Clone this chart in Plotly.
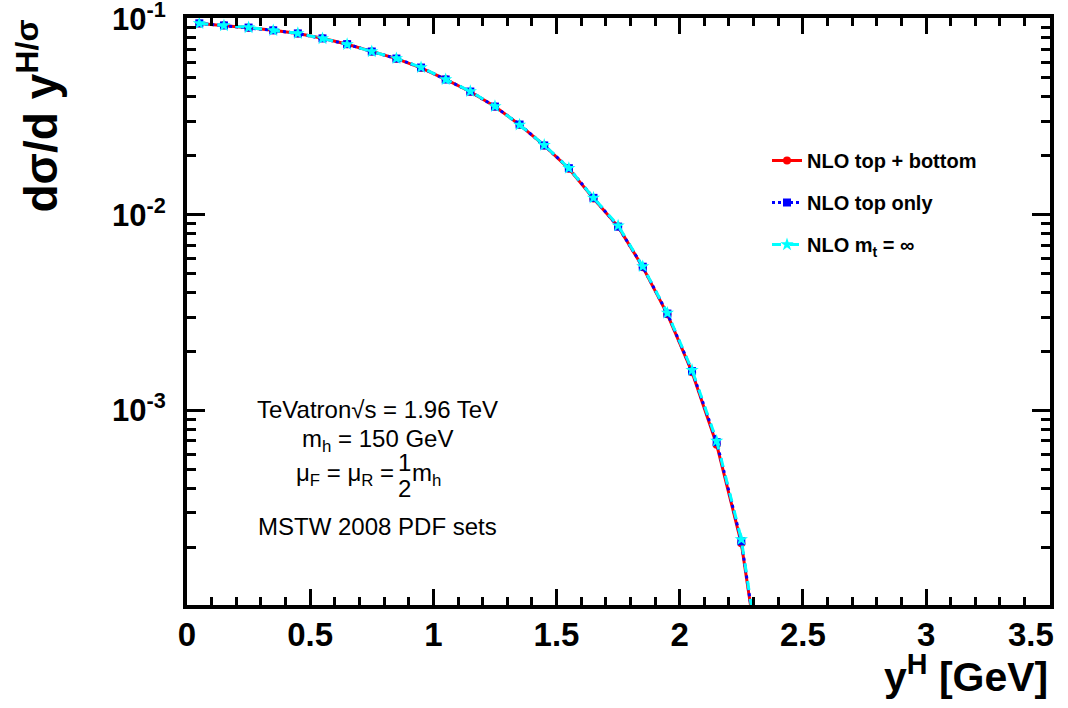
import plotly.graph_objects as go

# ---- data ----
y_h = [0.05, 0.15, 0.25, 0.35, 0.45, 0.55, 0.65, 0.75, 0.85, 0.95, 1.05, 1.15,
       1.25, 1.35, 1.45, 1.55, 1.65, 1.75, 1.85, 1.95, 2.05, 2.15, 2.25, 2.35]
nlo_top_bottom = [0.0949, 0.0928, 0.0903, 0.0876, 0.0843, 0.0797, 0.0743, 0.0683,
                  0.0627, 0.0563, 0.0492, 0.0425, 0.0357, 0.0288, 0.0226, 0.0172,
                  0.0121, 0.0087, 0.00540, 0.00310, 0.00157, 0.00067, 0.000210, 0.000030]
nlo_top_only = [0.0950, 0.0927, 0.0904, 0.0875, 0.0844, 0.0796, 0.0744, 0.0682,
                0.0628, 0.0565, 0.0491, 0.0426, 0.0357, 0.0289, 0.0226, 0.0173,
                0.0122, 0.0087, 0.00543, 0.00313, 0.00159, 0.00069, 0.000215, 0.000031]
nlo_mt_inf = [0.0949, 0.0926, 0.0905, 0.0874, 0.0845, 0.0795, 0.0742, 0.0682,
              0.0629, 0.0566, 0.0491, 0.0427, 0.0358, 0.0288, 0.0227, 0.0173,
              0.0122, 0.0088, 0.00545, 0.00315, 0.00161, 0.00070, 0.000220, 0.000032]

x_tickvals = [0, 0.5, 1, 1.5, 2, 2.5, 3, 3.5]
x_ticktext = ["0", "0.5", "1", "1.5", "2", "2.5", "3", "3.5"]
y_tickvals = [0.1, 0.01, 0.001]
y_ticktext = ["10<sup>-1</sup>", "10<sup>-2</sup>", "10<sup>-3</sup>"]

FONT = "Liberation Sans"

fig = go.Figure()
fig.add_trace(go.Scatter(
    x=y_h, y=nlo_top_bottom, mode="lines+markers", name="NLO top + bottom",
    line=dict(color="#ff0000", width=3, dash="solid"),
    marker=dict(symbol="circle", size=8, color="#ff0000"),
    legendgroup="a"))
fig.add_trace(go.Scatter(
    x=y_h, y=nlo_top_only, mode="lines+markers", name="NLO top only",
    line=dict(color="#0000ff", width=3, dash="dot"),
    marker=dict(symbol="square", size=8, color="#0000ff"),
    legendgroup="b"))
fig.add_trace(go.Scatter(
    x=y_h, y=nlo_mt_inf, mode="lines+markers", name="NLO m<sub>t</sub> = ∞",
    line=dict(color="#00ffff", width=3, dash="dash"),
    marker=dict(symbol="star", size=10, color="#00ffff"),
    legendgroup="c"))

# last x label (at the right frame edge) is drawn as an annotation, right-aligned like the original
x_ticktext_axis = x_ticktext[:-1] + [""]

XTICKFONT = dict(family=FONT, size=33, color="black", weight="bold")
fig.update_xaxes(
    range=[0, 3.503], tickvals=x_tickvals, ticktext=x_ticktext_axis,
    showline=True, linecolor="black", linewidth=4, mirror="ticks",
    ticks="inside", ticklen=16, tickwidth=3, tickcolor="black",
    minor=dict(ticks="inside", ticklen=8, tickwidth=3, dtick=0.1, tickcolor="black", showgrid=False),
    showgrid=False, zeroline=False, automargin=False,
    tickfont=XTICKFONT, ticklabeloverflow="allow",
    ticklabelstandoff=-3)
fig.update_yaxes(
    type="log", range=[-3.993, -0.995], tickvals=y_tickvals, ticktext=y_ticktext,
    showline=True, linecolor="black", linewidth=4, mirror="ticks",
    ticks="inside", ticklen=18, tickwidth=3, tickcolor="black",
    minor=dict(ticks="inside", ticklen=9, tickwidth=3, dtick="D1", tickcolor="black", showgrid=False),
    showgrid=False, zeroline=False, automargin=False,
    tickfont=dict(family=FONT, size=31, color="black", weight="bold"),
    ticklabeloverflow="allow",
    ticklabelstandoff=11)

def px(p):
    return (p - 187) / 863

def py(p):
    return 1 - (p - 18) / 587

annos = []
annos.append(dict(text=x_ticktext[-1], xref="paper", yref="paper", x=px(1056), y=py(634),
                  xanchor="right", yanchor="middle", showarrow=False, font=XTICKFONT))
# axis titles
annos.append(dict(text="y<sup>H</sup> [GeV]", xref="paper", yref="paper", x=1.0, y=py(646),
                  xanchor="right", yanchor="top", showarrow=False,
                  font=dict(family=FONT, size=41, color="black", weight="bold")))
annos.append(dict(text="dσ/d y<sup>H/σ</sup>", xref="paper", yref="paper", x=px(6), y=1.0,
                  xanchor="left", yanchor="top", textangle=-90, showarrow=False,
                  font=dict(family=FONT, size=46, color="black", weight="bold")))
# info text
info_font = dict(family=FONT, size=24, color="black")
cx = px(377)
annos.append(dict(text="TeVatron√s = 1.96 TeV", xref="paper", yref="paper", x=cx, y=py(409),
                  xanchor="center", yanchor="middle", showarrow=False, font=info_font))
annos.append(dict(text="m<sub>h</sub> = 150 GeV", xref="paper", yref="paper", x=cx, y=py(440),
                  xanchor="center", yanchor="middle", showarrow=False, font=info_font))
annos.append(dict(text="μ<sub>F</sub> = μ<sub>R</sub> =", xref="paper", yref="paper",
                  x=px(396), y=py(474), xanchor="right", yanchor="middle", showarrow=False, font=info_font))
annos.append(dict(text="1", xref="paper", yref="paper", x=px(404), y=py(462),
                  xanchor="center", yanchor="middle", showarrow=False, font=info_font))
annos.append(dict(text="2", xref="paper", yref="paper", x=px(404), y=py(488),
                  xanchor="center", yanchor="middle", showarrow=False, font=info_font))
annos.append(dict(text="m<sub>h</sub>", xref="paper", yref="paper", x=px(410), y=py(474),
                  xanchor="left", yanchor="middle", showarrow=False, font=info_font))
annos.append(dict(text="MSTW 2008 PDF sets", xref="paper", yref="paper", x=cx, y=py(526),
                  xanchor="center", yanchor="middle", showarrow=False, font=info_font))
fig.update_layout(annotations=annos)

fig.update_layout(
    width=1068, height=708,
    margin=dict(l=187, r=18, t=18, b=103, autoexpand=False),
    paper_bgcolor="white", plot_bgcolor="white",
    showlegend=True,
    legend=dict(x=px(767), y=py(141), xanchor="left", yanchor="top",
                bgcolor="rgba(0,0,0,0)", borderwidth=0, tracegroupgap=13,
                font=dict(family=FONT, size=20, color="black", weight="bold")),
)

fig.write_html("out.html")
